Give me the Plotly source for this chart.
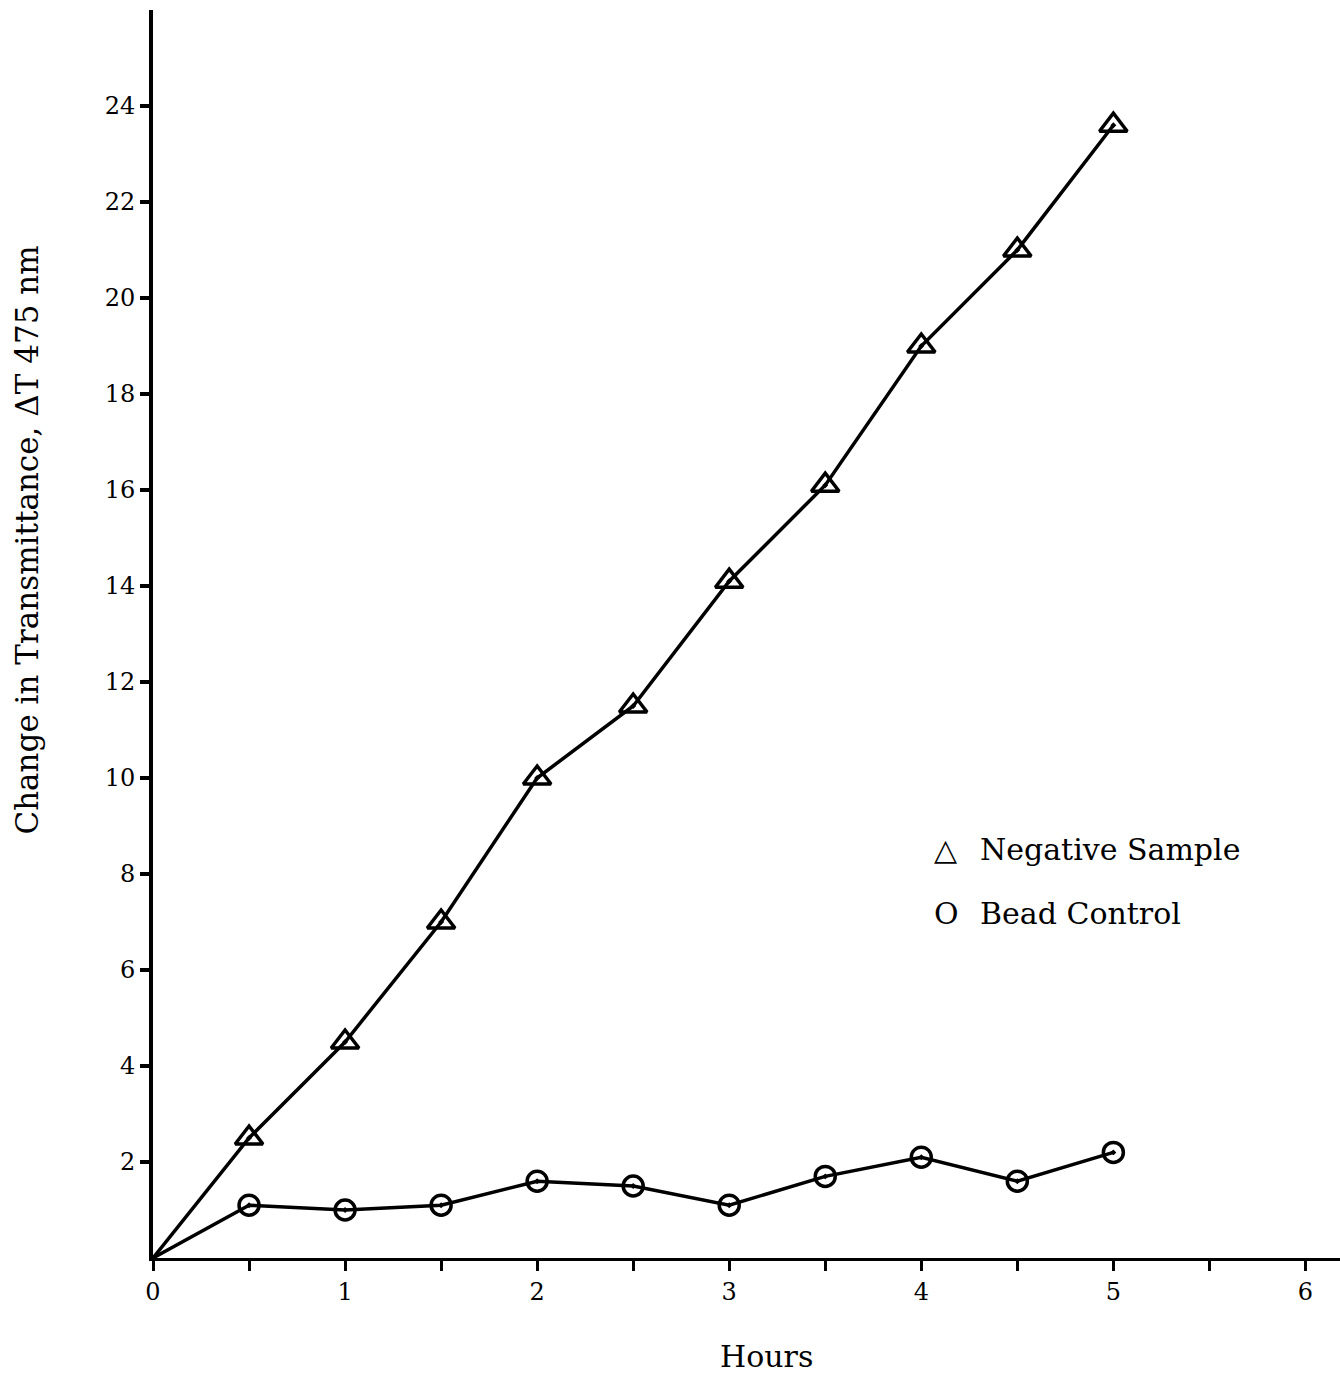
import plotly.graph_objects as go

# Time points (hours) and measured change in transmittance at 475 nm
hours = [0, 0.5, 1.0, 1.5, 2.0, 2.5, 3.0, 3.5, 4.0, 4.5, 5.0]
negative_sample = [0, 2.5, 4.5, 7.0, 10.0, 11.5, 14.1, 16.1, 19.0, 21.0, 23.6]
bead_control = [0, 1.1, 1.0, 1.1, 1.6, 1.5, 1.1, 1.7, 2.1, 1.6, 2.2]

y_tick_values = [2, 4, 6, 8, 10, 12, 14, 16, 18, 20, 22, 24]
x_tick_values = [0, 0.5, 1, 1.5, 2, 2.5, 3, 3.5, 4, 4.5, 5, 5.5, 6]
x_tick_labels = ["0", "", "1", "", "2", "", "3", "", "4", "", "5", "", "6"]

FONT = "DejaVu Serif"
INK = "black"
L_MARGIN, WIDTH = 153, 1340


def px_to_paper(px):
    return (px - L_MARGIN) / (WIDTH - L_MARGIN)


fig = go.Figure()

# Negative sample: triangles, no marker at the origin
fig.add_trace(go.Scatter(
    x=hours, y=negative_sample, mode="lines+markers",
    line=dict(color=INK, width=3.5),
    marker=dict(symbol="triangle-up-open-dot", color=INK, opacity=1,
                size=[0] + [24] * (len(hours) - 1),
                line=dict(color=INK, width=3.5)),
    showlegend=False, cliponaxis=False,
))

# Bead control: circles
fig.add_trace(go.Scatter(
    x=hours, y=bead_control, mode="lines+markers",
    line=dict(color=INK, width=3.5),
    marker=dict(symbol="circle-open-dot", color=INK, opacity=1,
                size=[0] + [20] * (len(hours) - 1),
                line=dict(color=INK, width=3.5)),
    showlegend=False, cliponaxis=False,
))

# Key, set as text inside the plot: symbol and label placed separately
key_font = dict(family=FONT, size=30, color=INK)
for symbol, label, ypos in [("\u25b3", "Negative Sample", 0.327),
                            ("O", "Bead Control", 0.276)]:
    fig.add_annotation(x=px_to_paper(932), y=ypos, xref="paper", yref="paper",
                       text=symbol, showarrow=False,
                       xanchor="left", yanchor="middle", font=key_font)
    fig.add_annotation(x=px_to_paper(978), y=ypos, xref="paper", yref="paper",
                       text=label, showarrow=False,
                       xanchor="left", yanchor="middle", font=key_font)

# Axis titles
fig.add_annotation(x=px_to_paper(767), y=-0.079, xref="paper", yref="paper",
                   text="Hours", showarrow=False,
                   xanchor="center", yanchor="middle",
                   font=dict(family=FONT, size=30, color=INK))
fig.add_annotation(x=-0.106, y=0.575, xref="paper", yref="paper",
                   text="Change in Transmittance, \u0394T 475 nm",
                   textangle=-90, showarrow=False,
                   xanchor="center", yanchor="middle",
                   font=dict(family=FONT, size=31, color=INK))

fig.update_layout(
    width=WIDTH, height=1373,
    margin=dict(l=L_MARGIN, r=0, t=10, b=115),
    paper_bgcolor="white", plot_bgcolor="white",
    font=dict(family=FONT, size=24, color=INK),
    xaxis=dict(range=[0, 6.18], tickvals=x_tick_values, ticktext=x_tick_labels,
               showgrid=False, zeroline=False, showline=True,
               linecolor=INK, linewidth=3, ticks="outside", ticklen=10,
               tickwidth=3, tickcolor=INK, tickfont=dict(size=24)),
    yaxis=dict(range=[0, 26], tickvals=y_tick_values,
               showgrid=False, zeroline=False, showline=True,
               linecolor=INK, linewidth=4, ticks="outside", ticklen=9,
               tickwidth=4, tickcolor=INK, tickfont=dict(size=24)),
)

fig.write_html("out.html")
